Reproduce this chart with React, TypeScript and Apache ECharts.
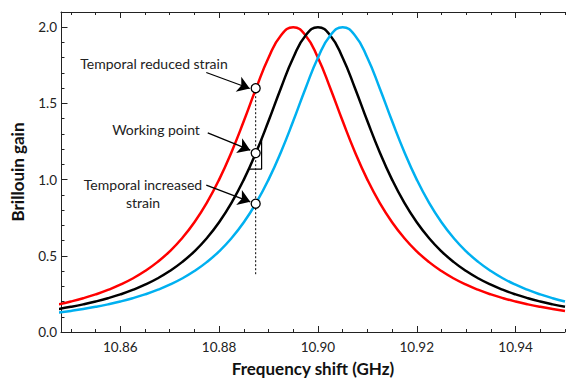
import React, { useEffect, useRef } from "react";
import * as echarts from "echarts";

// Frequency grid (GHz)
const freq: number[] = [
  10.8475, 10.85, 10.8525, 10.855, 10.8575, 10.86, 10.8625, 10.865, 10.8675, 10.87,
  10.8725, 10.875, 10.8775, 10.88, 10.8825, 10.885, 10.8875, 10.89, 10.8925, 10.895,
  10.8975, 10.9, 10.9025, 10.905, 10.9075, 10.91, 10.9125, 10.915, 10.9175, 10.92,
  10.9225, 10.925, 10.9275, 10.93, 10.9325, 10.935, 10.9375, 10.94, 10.9425, 10.945,
  10.9475, 10.95,
];

// Reduced strain (red)
const gainReduced: number[] = [
  0.1814, 0.2, 0.2215, 0.2466, 0.2759, 0.3103, 0.3512, 0.4, 0.4586, 0.5294,
  0.6154, 0.72, 0.8471, 1.0, 1.1803, 1.3846, 1.6, 1.8, 1.9459, 2.0,
  1.9459, 1.8, 1.6, 1.3846, 1.1803, 1.0, 0.8471, 0.72, 0.6154, 0.5294,
  0.4586, 0.4, 0.3512, 0.3103, 0.2759, 0.2466, 0.2215, 0.2, 0.1814, 0.1651,
  0.1509, 0.1385,
];

// Working point (black)
const gainWorking: number[] = [
  0.1509, 0.1651, 0.1814, 0.2, 0.2215, 0.2466, 0.2759, 0.3103, 0.3512, 0.4,
  0.4586, 0.5294, 0.6154, 0.72, 0.8471, 1.0, 1.1803, 1.3846, 1.6, 1.8,
  1.9459, 2.0, 1.9459, 1.8, 1.6, 1.3846, 1.1803, 1.0, 0.8471, 0.72,
  0.6154, 0.5294, 0.4586, 0.4, 0.3512, 0.3103, 0.2759, 0.2466, 0.2215, 0.2,
  0.1814, 0.1651,
];

// Increased strain (blue)
const gainIncreased: number[] = [
  0.1274, 0.1385, 0.1509, 0.1651, 0.1814, 0.2, 0.2215, 0.2466, 0.2759, 0.3103,
  0.3512, 0.4, 0.4586, 0.5294, 0.6154, 0.72, 0.8471, 1.0, 1.1803, 1.3846,
  1.6, 1.8, 1.9459, 2.0, 1.9459, 1.8, 1.6, 1.3846, 1.1803, 1.0,
  0.8471, 0.72, 0.6154, 0.5294, 0.4586, 0.4, 0.3512, 0.3103, 0.2759, 0.2466,
  0.2215, 0.2,
];

// Tick values
const xMajorTicks: number[] = [10.86, 10.88, 10.9, 10.92, 10.94];
const xMinorTicks: number[] = [
  10.85, 10.855, 10.865, 10.87, 10.875, 10.885, 10.89, 10.895,
  10.905, 10.91, 10.915, 10.925, 10.93, 10.935, 10.945, 10.95,
];
const yMajorTicks: number[] = [0.5, 1.0, 1.5, 2.0];
const yMinorTicks: number[] = [
  0.1, 0.2, 0.3, 0.4, 0.6, 0.7, 0.8, 0.9, 1.1, 1.2, 1.3, 1.4, 1.6, 1.7, 1.8, 1.9,
];

// Operating frequency and the three marked gains
const workFreq = 10.8874;
const markerGains: number[] = [1.6, 1.174, 0.842];
const dottedBottom = 0.374;

// Slope triangle on the black curve
const triangle: [number, number][] = [
  [10.886, 1.069],
  [10.8886, 1.069],
  [10.8886, 1.265],
];

// Annotation arrows [fromX, fromY, toX, toY]
const arrows: [number, number, number, number][] = [
  [10.8774, 1.703, 10.8862, 1.598],
  [10.8777, 1.307, 10.8863, 1.193],
  [10.8774, 0.964, 10.8863, 0.854],
];

const xMin = 10.848;
const xMax = 10.95;
const yMin = 0;
const yMax = 2.1;

const FONT = "Lato, 'Open Sans', sans-serif";
const AXIS_COLOR = "#222";

const W = 568;
const H = 379;
const GRID = { left: 61, right: 3, top: 12, bottom: 47 };

export default function App() {
  const ref = useRef<HTMLDivElement>(null);

  useEffect(() => {
    if (!ref.current) return;
    const chart = echarts.init(ref.current, undefined, { renderer: "svg" });

    const xFmt = (v: number) =>
      Math.abs(v * 50 - Math.round(v * 50)) < 1e-6 ? v.toFixed(2) : "";
    const yFmt = (v: number) =>
      Math.abs(v * 2 - Math.round(v * 2)) < 1e-6 ? v.toFixed(1) : "";

    // tick lengths: pixels converted to data units of the fixed axes
    const pxPerY = (H - GRID.top - GRID.bottom) / (yMax - yMin);
    const pxPerX = (W - GRID.left - GRID.right) / (xMax - xMin);
    const xMajLen = 6 / pxPerY;
    const xMinLen = 3 / pxPerY;
    const yMajLen = 6.5 / pxPerX;
    const yMinLen = 3.5 / pxPerX;

    const seg = (a: number[], b: number[]) => [{ coord: a }, { coord: b }];
    const frameLines: any[] = [seg([xMin, yMax], [xMax, yMax])];
    xMajorTicks.forEach((v) => {
      frameLines.push(seg([v, yMin], [v, yMin + xMajLen]));
      frameLines.push(seg([v, yMax], [v, yMax - xMajLen]));
    });
    xMinorTicks.forEach((v) => {
      frameLines.push(seg([v, yMin], [v, yMin + xMinLen]));
      frameLines.push(seg([v, yMax], [v, yMax - xMinLen]));
    });
    yMajorTicks.forEach((v) => frameLines.push(seg([xMin, v], [xMin + yMajLen, v])));
    yMinorTicks.forEach((v) => frameLines.push(seg([xMin, v], [xMin + yMinLen, v])));

    chart.setOption({
      animation: false,
      grid: { ...GRID, outerBoundsMode: "none" },
      xAxis: [
        {
          type: "value",
          min: xMin,
          max: xMax,
          position: "bottom",
          minInterval: 0.02,
          maxInterval: 0.02,
          splitLine: { show: false },
          name: "Frequency shift (GHz)",
          nameLocation: "middle",
          nameGap: 28,
          nameTextStyle: { fontFamily: FONT, fontWeight: "bold", fontSize: 17, color: "#111" },
          axisLine: { show: true, onZero: false, lineStyle: { color: AXIS_COLOR, width: 1 } },
          axisTick: { show: false },
          axisLabel: { formatter: xFmt, fontFamily: FONT, fontSize: 13.5, color: "#222", margin: 8 },
        },
        {
          type: "value",
          min: xMin,
          max: xMax,
          position: "top",
          splitLine: { show: false },
          axisLine: { show: true, onZero: false, lineStyle: { color: AXIS_COLOR, width: 1 } },
          axisTick: { show: false },
          axisLabel: { show: false },
        },
      ],
      yAxis: {
        type: "value",
        min: yMin,
        max: yMax,
        interval: 0.5,
        position: "left",
        splitLine: { show: false },
        name: "Brillouin gain",
        nameLocation: "middle",
        nameGap: 35,
        nameTextStyle: { fontFamily: FONT, fontWeight: "bold", fontSize: 17, color: "#111" },
        axisLine: { show: true, onZero: false, lineStyle: { color: AXIS_COLOR, width: 1 } },
        axisTick: { show: false },
        axisLabel: { formatter: yFmt, fontFamily: FONT, fontSize: 13.5, color: "#222", margin: 4 },
      },
      series: [
        {
          type: "line",
          data: [
            [workFreq, markerGains[0]],
            [workFreq, dottedBottom],
          ],
          symbol: "none",
          lineStyle: { color: "#000", width: 1, type: [2, 2] },
        },
        {
          type: "line",
          data: triangle,
          symbol: "none",
          lineStyle: { color: "#000", width: 1.2 },
        },
        {
          type: "line",
          data: freq.map((f, i) => [f, gainReduced[i]]),
          symbol: "none",
          smooth: true,
          lineStyle: { color: "#ff0000", width: 2.5 },
        },
        {
          type: "line",
          data: freq.map((f, i) => [f, gainWorking[i]]),
          symbol: "none",
          smooth: true,
          lineStyle: { color: "#000000", width: 2.5 },
          markLine: {
            silent: true,
            symbol: ["none", "none"],
            label: { show: false },
            lineStyle: { color: AXIS_COLOR, width: 1, type: "solid" },
            data: frameLines,
          },
        },
        {
          type: "line",
          data: freq.map((f, i) => [f, gainIncreased[i]]),
          symbol: "none",
          smooth: true,
          lineStyle: { color: "#00b0f0", width: 2.5 },
        },
        {
          type: "scatter",
          data: markerGains.map((g) => [workFreq, g]),
          symbol: "circle",
          symbolSize: 9,
          itemStyle: { color: "#fff", borderColor: "#000", borderWidth: 1.3, opacity: 1 },
          z: 5,
          markLine: {
            silent: true,
            symbol: ["none", "arrow"],
            symbolSize: 12,
            label: { show: false },
            lineStyle: { color: "#000", width: 1.3, type: "solid" },
            data: arrows.map((a) => [{ coord: [a[0], a[1]] }, { coord: [a[2], a[3]] }]),
          },
        },
      ],
      graphic: [
        {
          type: "text",
          x: 154,
          y: 63,
          style: { text: "Temporal reduced strain", font: `14px ${FONT}`, fill: "#222", align: "center", verticalAlign: "middle" },
        },
        {
          type: "text",
          x: 156,
          y: 129,
          style: { text: "Working point", font: `14px ${FONT}`, fill: "#222", align: "center", verticalAlign: "middle" },
        },
        {
          type: "text",
          x: 143,
          y: 193,
          style: { text: "Temporal increased\nstrain", font: `14px ${FONT}`, fill: "#222", align: "center", verticalAlign: "middle", lineHeight: 18 },
        },
      ],
    });

    return () => chart.dispose();
  }, []);

  return (
    <div ref={ref} style={{ position: "fixed", left: 0, top: 0, width: W, height: H, background: "#fff" }} />
  );
}
